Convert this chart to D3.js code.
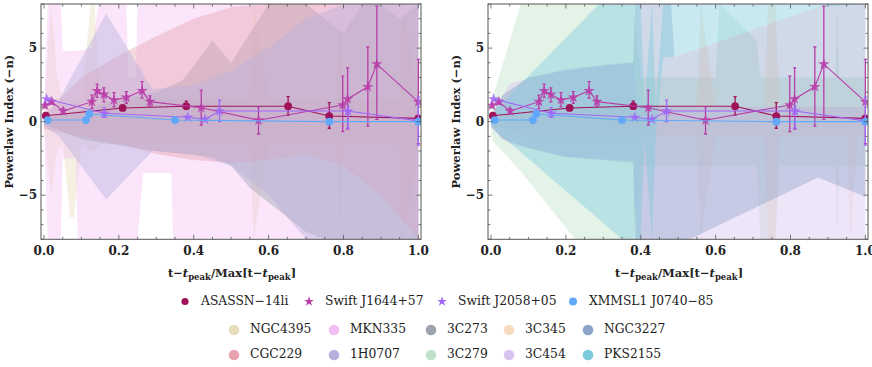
<!DOCTYPE html>
<html>
<head>
<meta charset="utf-8">
<script src="https://cdn.jsdelivr.net/npm/d3@7"></script>
<style>
  body { margin: 0; background: #fff; }
  svg { display: block; }
  text { font-family: "DejaVu Serif", serif; }
</style>
</head>
<body>
<svg id="chart" width="872" height="367"></svg>
<script>
// ---- tick labels ----
const xTicks = [0, 0.2, 0.4, 0.6, 0.8, 1.0];
const yTicks = [-5, 0, 5];

// ---- TDE series (t - t_peak normalised, powerlaw index) ----
const asassnT  = [0.005, 0.21, 0.38, 0.652, 0.762, 1.0];
const asassnN  = [0.4, 0.93, 1.05, 1.05, 0.38, 0.22];
const asassnLo = [null, null, 0.85, 0.45, -0.45, null];
const asassnHi = [null, null, 1.4, 1.7, 1.29, null];

const j1644T  = [0.003, 0.021, 0.051, 0.128, 0.142, 0.16, 0.187, 0.22, 0.262, 0.283, 0.42, 0.573, 0.798, 0.811, 0.865, 0.889, 1.0];
const j1644N  = [1.1, 1.36, 0.72, 1.36, 2.1, 1.85, 1.47, 1.65, 2.1, 1.36, 0.95, 0.1, 1.13, 1.54, 2.37, 3.91, 1.35];
const j1644Lo = [0.95, 1.2, 0.55, 0.9, 1.65, 1.35, 1.0, 1.25, 1.6, 1.05, -0.23, -0.84, -0.68, -0.5, -0.3, 0.16, -1.5];
const j1644Hi = [1.25, 1.5, 0.9, 1.8, 2.55, 2.3, 1.97, 2.04, 2.72, 1.75, 2.15, 1.01, 3.1, 3.66, 5.09, 7.85, 4.23];

const j2058T  = [0.007, 0.161, 0.384, 0.43, 0.469, 0.812, 1.0];
const j2058N  = [1.54, 0.57, 0.3, 0.16, 0.72, 0.72, 0.05];
const j2058Lo = [null, 0.3, null, null, 0.0, -0.45, -1.6];
const j2058Hi = [null, 0.96, null, null, 1.47, 1.05, 1.67];

const xmmT = [0.01, 0.112, 0.121, 0.35, 0.762, 1.0];
const xmmN = [0.11, 0.11, 0.52, 0.11, 0.0, 0.0];

// ---- AGN envelopes: t, lower and upper index ----
const ngc4395T  = [0, 0.01, 0.02, 0.035, 0.05, 0.07, 0.08, 0.1, 0.125, 0.135, 0.15, 0.2, 0.4, 0.55, 0.56, 0.6, 0.78, 0.79, 0.8, 0.95, 0.96, 1.0];
const ngc4395Hi = [0.3, 5, 8, 3, 1.5, 1.2, 1.5, 1.5, 8, 8, 1.5, 1.5, 1.5, 1.5, 8, 1.5, 1.5, 8, 1.5, 1.5, 8, 1.5];
const ngc4395Lo = [-0.3, -3, -5, -2, -1.5, -6.5, -6.5, -1.5, -2, -2, -1.5, -1.5, -1.5, -1.5, -8, -1.5, -1.5, -8, -1.5, -1.5, -8, -1.5];

const mkn335T  = [0, 0.01, 0.045, 0.05, 0.085, 0.09, 0.13, 0.145, 0.22, 0.225, 0.245, 0.25, 0.265, 0.34, 0.345, 0.5, 0.7, 0.9, 1.0];
const mkn335Hi = [0.5, 8, 8, 4.8, 4.8, 4.8, 5.0, 8, 8, 3, 3, 8, 8, 8, 8, 8, 8, 8, 8];
const mkn335Lo = [-0.5, -8, -8, -2.5, -2.5, -8, -8, -8, -8, -8, -8, -8, -3.5, -3.5, -8, -8, -8, -8, -8];

const c273T  = [0, 0.1, 0.2, 0.3, 0.37, 0.45, 0.5, 0.55, 0.6, 0.65, 0.7, 0.75, 0.8, 0.85, 0.9, 0.95, 1.0];
const c273Hi = [0.2, 0.8, 1.5, 2.0, 2.8, 5.5, 4, 6, 8, 8, 8, 7, 6, 8, 8, 7, 8];
const c273Lo = [-0.2, -1.2, -1.6, -2.0, -2.2, -2.4, -3, -4.5, -5.5, -6.5, -7.5, -8, -8, -8, -8, -8, -8];

const cgc229T  = [0, 0.1, 0.2, 0.3, 0.4, 0.5, 0.6, 0.7, 0.8, 0.9, 1.0];
const cgc229Hi = [0.5, 3.0, 4.5, 5.8, 7.0, 7.8, 8, 8, 8, 8, 8];
const cgc229Lo = [-0.5, -1.0, -1.5, -2.2, -2.6, -2.8, -2.6, -2.2, -3, -5, -8];

const h0707T  = [0, 0.04, 0.166, 0.29, 0.4, 0.5, 0.6, 0.7, 0.8, 0.9, 1.0];
const h0707Hi = [0.3, 1.5, 7.35, 2.2, 2.5, 3.5, 5, 7, 8, 8, 8];
const h0707Lo = [-0.3, -1.0, -5.3, -2.0, -2.2, -3, -5, -8, -8, -8, -8];

const c279T  = [0, 0.003, 0.083, 0.225, 0.38, 0.4, 0.6, 0.61, 0.71, 0.72, 0.76, 0.77, 0.92, 0.925, 0.93, 1.0];
const c279Hi = [0.2, 1.5, 8.3, 8, 8, 3, 3, 8, 5.5, 3, 3, 3, 3, 8, 3, 3];
const c279Lo = [-0.2, -1.25, -3.5, -8, -8, -3, -3, -3, -3, -8, -8, -3, -3, -8, -3, -3];

const c345T  = [0, 0.1, 0.3, 0.55, 0.56, 0.6, 0.73, 0.74, 0.76, 0.77, 0.95, 0.96, 0.98, 1.0];
const c345Hi = [0.2, 1, 1, 1, 8, 1, 1, 8, 8, 1, 1, 1, 1, 1];
const c345Lo = [-0.2, -1, -1, -1, -8, -1, -1, -8, -8, -1, -1, -8, -1, -1];

const c454T  = [0, 0.05, 0.2, 0.35, 0.38, 0.39, 0.6, 0.8, 1.0];
const c454Hi = [0.4, 2.6, 3.6, 4, 4, 1.0, 1.0, 1.0, 1.0];
const c454Lo = [-0.4, -1.5, -2.4, -2.6, -2.6, -8, -8, -8, -8];

const ngc3227T  = [0, 0.03, 0.1, 0.2, 0.3, 0.38, 0.385, 0.48, 0.49, 0.874, 1.0];
const ngc3227Hi = [0.3, 1.8, 3.0, 3.5, 3.8, 4.0, 8.5, 8.5, 4.4, 7.8, 8.5];
const ngc3227Lo = [-0.3, -1.2, -1.8, -2.4, -2.6, -2.8, -8.5, -8.5, -8.5, -3.8, -5.1];

const pks2155T  = [0, 0.012, 0.3, 0.35, 0.4, 0.41, 0.43, 0.44, 0.46, 0.49, 0.874, 1.0];
const pks2155Hi = [0.2, 0.8, 8.3, 8, 8, 1, 8, 1, 8, 8, 8, 8];
const pks2155Lo = [-0.2, -0.6, -6.9, -8, -8, -1, -8, -1, 4.4, 4.4, 7.8, 8];

// ---- legend names and colours ----
const tdeNames  = ["ASASSN\u221214li", "Swift J1644+57", "Swift J2058+05", "XMMSL1 J0740\u221285"];
const tdeColors = ["#a0125a", "#b83ca8", "#a066f6", "#62a8f8"];
const agnNames  = ["NGC4395", "MKN335", "3C273", "3C345", "NGC3227", "CGC229", "1H0707", "3C279", "3C454", "PKS2155"];
const agnColors = ["#e6dcba", "#f2c0f2", "#9ca3ae", "#f8dcc2", "#8ca4c8", "#e8a2b0", "#b8b0de", "#bfe2c8", "#d8c2f0", "#7ccadc"];

const zip = (t, lo, hi) => t.map((v, i) => ({ t: v, lo: lo[i], hi: hi[i] }));

const leftBands = [
  { c: agnColors[0], d: zip(ngc4395T, ngc4395Lo, ngc4395Hi) },
  { c: agnColors[1], d: zip(mkn335T, mkn335Lo, mkn335Hi) },
  { c: agnColors[2], d: zip(c273T, c273Lo, c273Hi) },
  { c: agnColors[5], d: zip(cgc229T, cgc229Lo, cgc229Hi) },
  { c: agnColors[6], d: zip(h0707T, h0707Lo, h0707Hi) }
];
const rightBands = [
  { c: agnColors[7], d: zip(c279T, c279Lo, c279Hi) },
  { c: agnColors[3], d: zip(c345T, c345Lo, c345Hi) },
  { c: agnColors[8], d: zip(c454T, c454Lo, c454Hi) },
  { c: agnColors[4], d: zip(ngc3227T, ngc3227Lo, ngc3227Hi) },
  { c: agnColors[9], d: zip(pks2155T, pks2155Lo, pks2155Hi) }
];

const series = [
  { t: asassnT, n: asassnN, lo: asassnLo, hi: asassnHi, shape: "circle", c: tdeColors[0] },
  { t: j1644T, n: j1644N, lo: j1644Lo, hi: j1644Hi, shape: "star", c: tdeColors[1] },
  { t: j2058T, n: j2058N, lo: j2058Lo, hi: j2058Hi, shape: "star", c: tdeColors[2] },
  { t: xmmT, n: xmmN, lo: xmmT.map(() => null), hi: xmmT.map(() => null), shape: "circle", c: tdeColors[3] }
];

const svg = d3.select("#chart");
const plotTop = 4, plotBottom = 239.3;
const y = d3.scaleLinear().domain([-8, 8]).range([plotBottom, plotTop]);

const panels = [
  { left: 41, right: 421, bands: leftBands, id: "L" },
  { left: 488, right: 868, bands: rightBands, id: "R" }
];

panels.forEach(p => {
  const x = d3.scaleLinear().domain([-0.008, 1.007]).range([p.left, p.right]);
  const g = svg.append("g");

  svg.append("clipPath").attr("id", "clip" + p.id)
    .append("rect").attr("x", p.left).attr("y", plotTop)
    .attr("width", p.right - p.left).attr("height", plotBottom - plotTop);

  const plot = g.append("g").attr("clip-path", `url(#clip${p.id})`);

  const area = d3.area()
    .x(d => x(d.t))
    .y0(d => y(d.lo))
    .y1(d => y(d.hi));

  plot.selectAll("path.band")
    .data(p.bands)
    .join("path")
    .attr("class", "band")
    .attr("d", b => area(b.d))
    .attr("fill", b => b.c)
    .attr("fill-opacity", 0.42);

  const line = d3.line().x(d => x(d[0])).y(d => y(d[1]));

  series.forEach(s => {
    const pts = s.t.map((t, i) => [t, s.n[i]]);
    plot.append("path")
      .attr("d", line(pts))
      .attr("fill", "none")
      .attr("stroke", s.c)
      .attr("stroke-width", 1.1);

    // error bars
    s.t.forEach((t, i) => {
      if (s.lo[i] === null) return;
      const xx = x(t);
      const eg = plot.append("g").attr("stroke", s.c).attr("stroke-width", 1.3);
      eg.append("line").attr("x1", xx).attr("x2", xx).attr("y1", y(s.lo[i])).attr("y2", y(s.hi[i]));
      eg.append("line").attr("x1", xx - 1.6).attr("x2", xx + 1.6).attr("y1", y(s.lo[i])).attr("y2", y(s.lo[i]));
      eg.append("line").attr("x1", xx - 1.6).attr("x2", xx + 1.6).attr("y1", y(s.hi[i])).attr("y2", y(s.hi[i]));
    });

    if (s.shape === "circle") {
      plot.selectAll(null).data(pts).join("circle")
        .attr("cx", d => x(d[0])).attr("cy", d => y(d[1]))
        .attr("r", 3.9).attr("fill", s.c);
    } else {
      plot.selectAll(null).data(pts).join("path")
        .attr("transform", d => `translate(${x(d[0])},${y(d[1])})`)
        .attr("d", d3.symbol(d3.symbolStar, 40))
        .attr("fill", s.c).attr("fill-opacity", 0.85);
    }
  });

  // frame
  g.append("rect")
    .attr("x", p.left).attr("y", plotTop)
    .attr("width", p.right - p.left).attr("height", plotBottom - plotTop)
    .attr("fill", "none").attr("stroke", "#555").attr("stroke-width", 1);

  // ticks on all four sides
  const tg = g.append("g").attr("stroke", "#555").attr("stroke-width", 0.8);
  d3.range(0, 1.0001, 0.05).forEach((t, i) => {
    const len = i % 4 === 0 ? 4.5 : 2.5;
    const xx = x(t);
    tg.append("line").attr("x1", xx).attr("x2", xx).attr("y1", plotBottom).attr("y2", plotBottom - len);
    tg.append("line").attr("x1", xx).attr("x2", xx).attr("y1", plotTop).attr("y2", plotTop + len);
  });
  d3.range(-8, 8.001, 1).forEach(v => {
    const len = v % 5 === 0 ? 4.5 : 2.5;
    const yy = y(v);
    tg.append("line").attr("x1", p.left).attr("x2", p.left + len).attr("y1", yy).attr("y2", yy);
    tg.append("line").attr("x1", p.right).attr("x2", p.right - len).attr("y1", yy).attr("y2", yy);
  });

  // tick labels
  g.selectAll(null).data(xTicks).join("text")
    .attr("x", d => x(d)).attr("y", 254.5)
    .attr("text-anchor", "middle")
    .attr("font-size", 12).attr("font-weight", "bold")
    .attr("fill", "#222")
    .text(d => d.toFixed(1));

  g.selectAll(null).data(yTicks).join("text")
    .attr("x", p.left - 4).attr("y", d => y(d) + 4.3)
    .attr("text-anchor", "end")
    .attr("font-size", 12).attr("font-weight", "bold")
    .attr("fill", "#222")
    .text(d => d < 0 ? "\u2212" + Math.abs(d) : d);

  // axis labels
  g.append("text")
    .attr("transform", `translate(${p.left - 28},${(plotTop + plotBottom) / 2}) rotate(-90)`)
    .attr("text-anchor", "middle")
    .attr("font-size", 11.5).attr("font-weight", "bold")
    .attr("fill", "#222")
    .text("Powerlaw Index (\u2212n)");

  const xl = g.append("text")
    .attr("x", (p.left + p.right) / 2 + 1).attr("y", 276.5)
    .attr("text-anchor", "middle")
    .attr("font-size", 11.5).attr("font-weight", "bold")
    .attr("fill", "#222");
  xl.append("tspan").text("t\u2212");
  xl.append("tspan").attr("font-style", "italic").text("t");
  xl.append("tspan").attr("font-size", 8.5).attr("dy", 3).text("peak");
  xl.append("tspan").attr("dy", -3).text("/Max[t\u2212");
  xl.append("tspan").attr("font-style", "italic").text("t");
  xl.append("tspan").attr("font-size", 8.5).attr("dy", 3).text("peak");
  xl.append("tspan").attr("dy", -3).text("]");
});

// ---- legend ----
const lg = svg.append("g").attr("font-size", 12.3).attr("fill", "#222");
const row1X = [185, 309, 442, 573];
tdeNames.forEach((name, i) => {
  const cx = row1X[i], cy = 300.5;
  if (i === 0 || i === 3) {
    lg.append("circle").attr("cx", cx).attr("cy", cy + 1).attr("r", i === 0 ? 3.6 : 4)
      .attr("fill", tdeColors[i]);
  } else {
    lg.append("path").attr("transform", `translate(${cx},${cy + 1})`)
      .attr("d", d3.symbol(d3.symbolStar, 30)).attr("fill", tdeColors[i]);
  }
  lg.append("text").attr("x", cx + 16).attr("y", cy + 4.5).text(name);
});

const colX = [234, 334, 431, 509, 588];
const rowY = [328.5, 353.5];
agnNames.forEach((name, i) => {
  const cx = colX[i % 5], cy = rowY[Math.floor(i / 5)];
  lg.append("circle").attr("cx", cx).attr("cy", cy + 1.5).attr("r", 5.3)
    .attr("fill", agnColors[i]);
  lg.append("text").attr("x", cx + 16).attr("y", cy + 4.5).text(name);
});
</script>
</body>
</html>
